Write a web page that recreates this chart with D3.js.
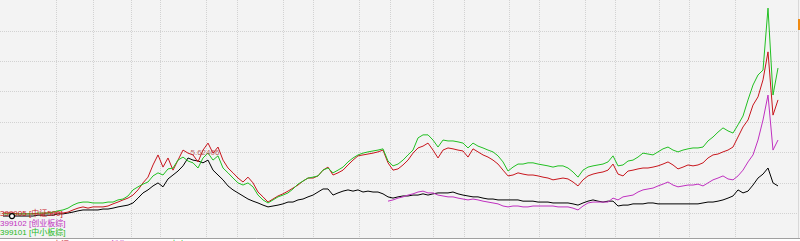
<!DOCTYPE html>
<html>
<head>
<meta charset="utf-8">
<script src="https://cdn.jsdelivr.net/npm/d3@7/dist/d3.min.js"></script>
<style>
  body { margin: 0; background: #fff; }
  svg { display: block; font-family: "Liberation Sans", "Noto Sans CJK SC", sans-serif; }
</style>
</head>
<body>
<div id="chart"></div>
<script>
// normalised index levels (base 100), one sample every ~3 weeks
var hs300 = [90,90,90,90,90,90,90,93,93,93,
  93,97,97,100,103,107,110,110,110,110,
  113,113,116,120,123,126,133,149,166,176,
  189,199,186,212,225,238,255,281,274,271,
  265,274,241,225,209,189,176,166,156,146,
  139,133,126,120,123,126,130,136,136,143,
  146,153,159,169,179,179,159,166,172,176,
  172,176,169,172,169,169,163,153,149,153,
  156,156,159,159,163,159,163,166,166,166,
  169,163,159,156,153,153,149,146,146,143,
  143,143,143,143,139,139,139,136,136,136,
  133,133,133,133,130,126,133,139,143,139,
  136,139,139,123,126,126,130,130,130,133,
  133,130,130,130,130,130,130,130,130,130,
  133,136,136,139,143,149,156,176,166,172,
  192,215,228,248,199,189];

var zz500 = [100,100,100,97,97,97,97,97,97,100,
  100,100,100,103,110,116,120,116,120,120,
  120,123,130,136,143,149,159,176,199,218,
  258,291,251,281,241,274,307,297,291,268,
  307,330,297,317,274,248,232,215,202,218,
  199,169,153,136,146,156,163,172,182,192,
  205,215,215,222,241,251,225,232,241,258,
  274,288,291,294,297,301,307,265,241,245,
  258,274,297,314,320,330,307,281,307,314,
  311,307,304,284,311,301,291,284,274,261,
  241,222,225,232,228,225,225,222,218,215,
  209,212,215,212,202,189,209,222,228,232,
  235,241,261,228,222,238,241,245,248,248,
  251,255,261,268,258,245,251,258,255,258,
  265,281,291,294,301,307,317,350,383,406,
  455,482,538,630,422,472];

var zxb = [97,97,97,97,97,97,97,100,100,100,
  103,107,110,116,126,133,136,136,133,133,
  133,136,136,143,146,156,176,186,195,202,
  222,232,225,245,248,274,284,271,265,248,
  281,297,274,288,248,232,215,199,192,199,
  186,159,143,133,143,153,159,166,179,195,
  205,215,218,222,241,248,232,241,251,268,
  281,291,297,301,304,307,311,271,255,261,
  274,291,307,347,357,357,340,317,340,337,
  337,334,330,314,330,320,314,307,301,288,
  268,238,251,261,261,265,265,261,258,255,
  251,255,255,248,235,218,241,251,255,258,
  261,268,288,255,258,271,274,284,297,294,
  291,301,311,317,307,301,307,311,314,314,
  317,337,350,366,380,370,363,390,419,472,
  521,554,570,774,488,577];

// 创业板 starts later, at sample 77
var cybStart = 77;
var cyb = [139,143,149,
  153,159,163,169,172,166,166,159,156,153,
  153,149,146,143,146,143,139,136,133,130,
  123,120,123,123,120,120,123,123,123,123,
  123,120,120,120,116,110,123,133,136,136,
  136,136,149,143,153,156,159,169,176,179,
  182,189,195,202,192,186,189,192,192,195,
  189,199,209,215,222,212,209,222,241,268,
  291,340,406,488,307,340];

var gridIdx = [10.6,17.9,25.5,31.5,40.5,46.9,55.9,61.9,71.1,77.3,86.0,92.2,101.2,107.2,116.4,122.4,131.2,137.2,146.4];
var gridVals = [100,200,300,400,500,600,700];

var legendLabels = ["399905 [中证500]", "399102 [创业板综]", "399101 [中小板综]"];
var legendColors = ["#c8161d", "#c030c0", "#22b822"];

var footTexts = ["2015/08/24", "中证 6124.1", "创业 2153.4", "中小 10822", "300 3275.5"];
var footColors = ["#000", "#c8161d", "#c030c0", "#22b822", "#000"];
var footX = [0, 53, 110, 170, 235];

var width = 800, height = 241, plotBottom = 238;

var svg = d3.select("#chart").append("svg")
    .attr("width", width)
    .attr("height", height);

svg.append("rect")
    .attr("width", width).attr("height", plotBottom)
    .attr("fill", "#f3f3f3");

var x = d3.scaleLinear()
    .domain([0, hs300.length - 1])
    .range([3, 778]);

var y = d3.scaleLinear()
    .domain([100, 700])
    .range([213, 30.6]);

// grid
svg.append("g").selectAll("line")
    .data(gridIdx)
  .enter().append("line")
    .attr("x1", function(d) { return Math.round(x(d)) + 0.5; })
    .attr("x2", function(d) { return Math.round(x(d)) + 0.5; })
    .attr("y1", 0).attr("y2", plotBottom)
    .style("stroke", "#d2d2d2")
    .style("stroke-dasharray", "1,1");

svg.append("g").selectAll("line")
    .data(gridVals)
  .enter().append("line")
    .attr("x1", 0).attr("x2", width - 2)
    .attr("y1", function(d) { return Math.round(y(d)) + 0.5; })
    .attr("y2", function(d) { return Math.round(y(d)) + 0.5; })
    .style("stroke", "#d2d2d2")
    .style("stroke-dasharray", "1,1");

svg.append("line")
    .attr("x1", width - 1.5).attr("x2", width - 1.5)
    .attr("y1", 0).attr("y2", plotBottom)
    .style("stroke", "#d8d8d8");

var line = function(offset) {
  return d3.line()
    .x(function(d, i) { return x(i + offset); })
    .y(function(d) { return y(d); });
};

var series = [
  {vals: hs300, off: 0, color: "#000000"},
  {vals: cyb, off: cybStart, color: "#c030c0"},
  {vals: zz500, off: 0, color: "#c8161d"},
  {vals: zxb, off: 0, color: "#22c022"}
];

series.forEach(function(s) {
  svg.append("path")
    .datum(s.vals)
    .attr("d", line(s.off))
    .style("fill", "none")
    .style("stroke", s.color)
    .style("stroke-width", 1);
});

// little value tag near the 2007 top
svg.append("text")
    .attr("x", x(37.5)).attr("y", y(290))
    .style("font-size", "8px")
    .style("fill", "#b04040")
    .style("opacity", 0.8)
    .text("5.62406");

// legend
svg.append("g").selectAll("text")
    .data(legendLabels)
  .enter().append("text")
    .attr("x", 0)
    .attr("y", function(d, i) { return 216 + i * 9.6; })
    .style("font-size", "8px")
    .style("fill", function(d, i) { return legendColors[i]; })
    .text(function(d) { return d; });

svg.append("circle")
    .attr("cx", x(1.8)).attr("cy", y(hs300[2]))
    .attr("r", 2.5)
    .style("fill", "#fff")
    .style("stroke", "#000")
    .style("stroke-width", 1.2);

// orange marker on the right edge
svg.append("rect")
    .attr("x", width - 2).attr("y", 19)
    .attr("width", 2).attr("height", 11)
    .attr("fill", "#f08a10");

// footer row, mostly cut off by the window
svg.append("line")
    .attr("x1", 0).attr("x2", width)
    .attr("y1", plotBottom + 0.5).attr("y2", plotBottom + 0.5)
    .style("stroke", "#a0a0a0");

svg.append("g").selectAll("text")
    .data(footTexts)
  .enter().append("text")
    .attr("x", function(d, i) { return footX[i]; })
    .attr("y", 247)
    .style("font-size", "8px")
    .style("fill", function(d, i) { return footColors[i]; })
    .text(function(d) { return d; });
</script>
</body>
</html>
